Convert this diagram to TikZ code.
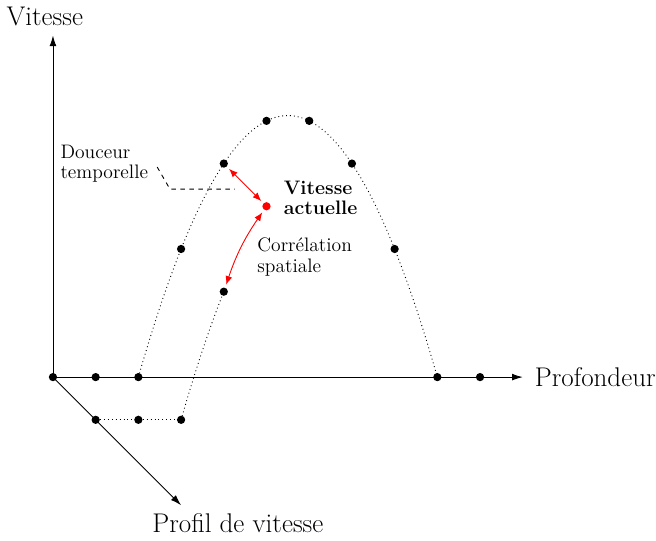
\documentclass[tikz,border=0pt]{standalone}
\usetikzlibrary{arrows.meta}
\usetikzlibrary{positioning}
\tikzstyle{axis}=[semithick, -{Latex[length=2.5mm, width=1.6mm]}]
\tikzstyle{sample}=[circle, fill, inner sep=0, minimum size=5.5pt]
\tikzstyle{current}=[sample, red]
\tikzstyle{profile}=[dotted, semithick]
\tikzstyle{link}=[red, semithick, {Latex[length=2mm, width=1.6mm]}-{Latex[length=2mm, width=1.6mm]}, shorten <=2pt, shorten >=2pt]
\tikzstyle{bigtext}=[font=\fontsize{18}{22}\selectfont]
\tikzstyle{note}=[font=\fontsize{13}{13.5}\selectfont, align=left, inner sep=0]

\begin{document}
\begin{tikzpicture}
          \useasboundingbox (-1.24, -3.82) rectangle (14.12, 8.83);

          % axes
          \coordinate (o) at (0, 0);
          \coordinate (v_end) at (0, 8);
          \coordinate (p_end) at (11, 0);
          \coordinate (d_end) at (3, -3);
          \draw[axis] (o) -- (v_end);
          \draw[axis] (o) -- (p_end);
          \draw[axis] (o) -- (d_end);
          \node[bigtext] (vitesse) at (-0.19, 8.45) {Vitesse};
          \node[bigtext, right=0.16 of p_end] (profondeur) {Profondeur};
          \node[bigtext] (profil) at (4.33, -3.42) {Profil de vitesse};

          % profiles
          \draw[profile, domain=2:9, samples=60] plot (\x, {0.5*(\x-2)*(9-\x)});
          \draw[profile, domain=3:4, samples=15] plot (\x, {0.5*(\x-3)*(10-\x)-1});

          \foreach \x/\y [count=\i] in {0/0, 1/0, 2/0, 9/0, 10/0, 3/3, 4/5, 5/6, 6/6, 7/5, 8/3}
            \node[sample] (s\i) at (\x, \y) {};
          \node[sample] (d1) at (1, -1) {};
          \node[sample] (d2) at (2, -1) {};
          \node[sample] (d3) at (3, -1) {};
          \node[sample] (d4) at (4, 2) {};
          \draw[profile] (d1) -- (d2) -- (d3);

          \node[current] (now) at (5, 4) {};
          \draw[link] (s7) -- (now);
          \draw[link, bend left=8] (d4) to (now);

          % labels
          \node[note, font=\fontsize{13}{13.5}\selectfont\bfseries, anchor=west] (now_label) at (5.4, 4.19) {Vitesse\\actuelle};
          \node[note, anchor=west] (spatial) at (4.78, 2.81) {Corrélation\\spatiale};
          \node[note, anchor=west] (temporal) at (0.17, 5.0) {Douceur\\temporelle};
          \coordinate (t_start) at (2.44, 4.92);
          \coordinate (t_knee) at (2.74, 4.4);
          \coordinate (t_tip) at (4.26, 4.4);
          \draw[dashed, semithick] (t_start) -- (t_knee) -- (t_tip);
        \end{tikzpicture}
\end{document}
